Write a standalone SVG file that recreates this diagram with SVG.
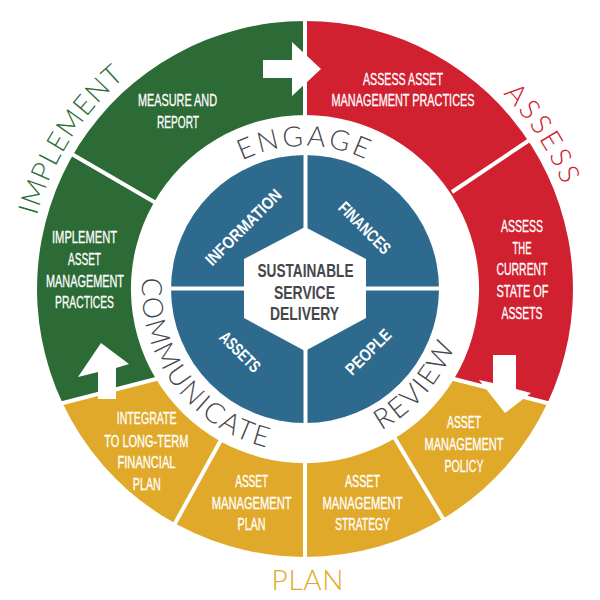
<svg xmlns="http://www.w3.org/2000/svg" width="600" height="600" viewBox="0 0 600 600">
<style>
.lbl{font-family:"Liberation Sans",Arial,sans-serif;font-size:16px;fill:#ffffff;stroke:#ffffff;stroke-width:0.3;text-anchor:middle}
.blue{font-family:"Liberation Sans",Arial,sans-serif;font-size:17px;font-weight:bold;fill:#ffffff;text-anchor:middle}
.hex{font-family:"Liberation Sans",Arial,sans-serif;font-size:18px;font-weight:bold;fill:#46474d;text-anchor:middle}
.arc{font-family:Lato,"Open Sans","DejaVu Sans",sans-serif;font-weight:300;font-size:28px}
.div{stroke:#ffffff;stroke-width:4;fill:none}
.arrow{fill:#ffffff}
</style>
<defs>
<path id="pEngage" d="M162,289 A143,143 0 0 1 448,289"/>
<path id="pImplement" d="M92.04,467.69 A278,278 0 0 1 376.95,20.47"/>
<path id="pAssess" d="M209.92,27.77 A278,278 0 0 1 504.98,482.12"/>
<path id="pComm" d="M171.48,195.51 A163,163 0 0 0 355.37,444.02"/>
<path id="pReview" d="M249.59,441.23 A163,163 0 0 0 448.03,212.95"/>
</defs>
<rect width="600" height="600" fill="#ffffff"/>

<g id="ring-green">
<path d="M62.5,403 A268,268 0 0 1 305,21 L305,115 A174,174 0 0 0 156,379 Z" fill="#2c6b35"/>
</g>
<g id="ring-red">
<path d="M305,21 A268,268 0 0 1 547.5,403 L454,379 A174,174 0 0 0 305,115 Z" fill="#d1202f"/>
</g>
<g id="ring-yellow">
<path d="M547.5,403 A268,268 0 0 1 62.5,403 L156,379 A174,174 0 0 0 454,379 Z" fill="#e1a92a"/>
</g>

<g id="connectors">
<line class="div" x1="305" y1="16" x2="305" y2="118"/>
<line class="div" x1="305" y1="460" x2="305" y2="562"/>
<line class="div" x1="452" y1="378.5" x2="551" y2="404"/>
<line class="div" x1="158" y1="378.5" x2="59" y2="404"/>
<line class="div" x1="156" y1="203" x2="70" y2="153"/>
<line class="div" x1="452" y1="192" x2="531" y2="139"/>
<line class="div" x1="393.5" y1="436" x2="445" y2="522"/>
<line class="div" x1="221.5" y1="439" x2="173" y2="527"/>
<polygon class="arrow" points="263,60 292,60 292,42 321,69 292,96 292,78 263,78"/>
<polygon class="arrow" points="493,355 516,355 516,389 531,393 505,413 479,380 493,383"/>
<polygon class="arrow" points="98,399 116,399 116,368 129,364 101,343 78,377 98,372"/>
</g>

<g id="blue-core">
<circle cx="305" cy="289" r="134" fill="#2e6a8e"/>
<line class="div" x1="305.5" y1="150" x2="305.5" y2="428"/>
<line class="div" x1="166" y1="288.5" x2="444" y2="288.5"/>
</g>

<g id="hub">
<polygon points="305,227 366,259 366,318 305,351 244,318 244,259" fill="#ffffff"/>
<text class="hex" x="305.5" y="277" textLength="96" lengthAdjust="spacingAndGlyphs">SUSTAINABLE</text>
<text class="hex" x="304.5" y="298.5" textLength="61" lengthAdjust="spacingAndGlyphs">SERVICE</text>
<text class="hex" x="304.5" y="319.5" textLength="69" lengthAdjust="spacingAndGlyphs">DELIVERY</text>
</g>

<g id="information"><text class="blue" transform="translate(247.5,231.5) rotate(-45)" textLength="100" lengthAdjust="spacingAndGlyphs">INFORMATION</text></g>
<g id="finances"><text class="blue" transform="translate(360.5,232) rotate(45)" textLength="66" lengthAdjust="spacingAndGlyphs">FINANCES</text></g>
<g id="assets"><text class="blue" transform="translate(236,356) rotate(45)" textLength="50" lengthAdjust="spacingAndGlyphs">ASSETS</text></g>
<g id="people"><text class="blue" transform="translate(372.5,356) rotate(-45)" textLength="57" lengthAdjust="spacingAndGlyphs">PEOPLE</text></g>

<g id="engage"><text class="arc" fill="#46474d" letter-spacing="3"><textPath href="#pEngage" startOffset="50%" text-anchor="middle">ENGAGE</textPath></text></g>
<g id="communicate"><text class="arc" fill="#46474d" letter-spacing="2"><textPath href="#pComm" startOffset="50%" text-anchor="middle">COMMUNICATE</textPath></text></g>
<g id="review"><text class="arc" fill="#46474d" letter-spacing="2"><textPath href="#pReview" startOffset="50%" text-anchor="middle">REVIEW</textPath></text></g>
<g id="implement"><text class="arc" fill="#2c6b35" letter-spacing="1"><textPath href="#pImplement" startOffset="50%" text-anchor="middle">IMPLEMENT</textPath></text></g>
<g id="assess"><text class="arc" fill="#d1202f" letter-spacing="3"><textPath href="#pAssess" startOffset="50%" text-anchor="middle">ASSESS</textPath></text></g>
<g id="plan"><text class="arc" fill="#e1a92a" x="307.5" y="590" text-anchor="middle" font-size="26" textLength="72" lengthAdjust="spacing">PLAN</text></g>

<g id="measure-report">
<text class="lbl" x="177.5" y="106" textLength="79" lengthAdjust="spacingAndGlyphs">MEASURE AND</text>
<text class="lbl" x="178" y="128" textLength="42" lengthAdjust="spacingAndGlyphs">REPORT</text>
</g>
<g id="implement-practices">
<text class="lbl" x="84.5" y="243" textLength="65" lengthAdjust="spacingAndGlyphs">IMPLEMENT</text>
<text class="lbl" x="84.5" y="265" textLength="33" lengthAdjust="spacingAndGlyphs">ASSET</text>
<text class="lbl" x="85" y="286.5" textLength="78" lengthAdjust="spacingAndGlyphs">MANAGEMENT</text>
<text class="lbl" x="84.5" y="308" textLength="59" lengthAdjust="spacingAndGlyphs">PRACTICES</text>
</g>
<g id="assess-practices">
<text class="lbl" x="403" y="85" textLength="80" lengthAdjust="spacingAndGlyphs">ASSESS ASSET</text>
<text class="lbl" x="403" y="106" textLength="143" lengthAdjust="spacingAndGlyphs">MANAGEMENT PRACTICES</text>
</g>
<g id="assess-state">
<text class="lbl" x="522" y="232" textLength="42" lengthAdjust="spacingAndGlyphs">ASSESS</text>
<text class="lbl" x="522" y="253.5" textLength="19" lengthAdjust="spacingAndGlyphs">THE</text>
<text class="lbl" x="522" y="275" textLength="51" lengthAdjust="spacingAndGlyphs">CURRENT</text>
<text class="lbl" x="522.5" y="297" textLength="52" lengthAdjust="spacingAndGlyphs">STATE OF</text>
<text class="lbl" x="522" y="319" textLength="41" lengthAdjust="spacingAndGlyphs">ASSETS</text>
</g>
<g id="policy">
<text class="lbl" x="464" y="428" textLength="34" lengthAdjust="spacingAndGlyphs">ASSET</text>
<text class="lbl" x="464" y="450" textLength="79" lengthAdjust="spacingAndGlyphs">MANAGEMENT</text>
<text class="lbl" x="464" y="472" textLength="39" lengthAdjust="spacingAndGlyphs">POLICY</text>
</g>
<g id="strategy">
<text class="lbl" x="362.5" y="487" textLength="35" lengthAdjust="spacingAndGlyphs">ASSET</text>
<text class="lbl" x="362.5" y="508.5" textLength="80" lengthAdjust="spacingAndGlyphs">MANAGEMENT</text>
<text class="lbl" x="362.5" y="530" textLength="55" lengthAdjust="spacingAndGlyphs">STRATEGY</text>
</g>
<g id="am-plan">
<text class="lbl" x="251.7" y="487" textLength="33" lengthAdjust="spacingAndGlyphs">ASSET</text>
<text class="lbl" x="251.7" y="508.5" textLength="80" lengthAdjust="spacingAndGlyphs">MANAGEMENT</text>
<text class="lbl" x="251.5" y="530" textLength="28" lengthAdjust="spacingAndGlyphs">PLAN</text>
</g>
<g id="integrate">
<text class="lbl" x="146.7" y="424" textLength="60" lengthAdjust="spacingAndGlyphs">INTEGRATE</text>
<text class="lbl" x="146.3" y="446.5" textLength="84" lengthAdjust="spacingAndGlyphs">TO LONG-TERM</text>
<text class="lbl" x="146.5" y="468" textLength="58" lengthAdjust="spacingAndGlyphs">FINANCIAL</text>
<text class="lbl" x="146.8" y="489.5" textLength="28" lengthAdjust="spacingAndGlyphs">PLAN</text>
</g>
</svg>
